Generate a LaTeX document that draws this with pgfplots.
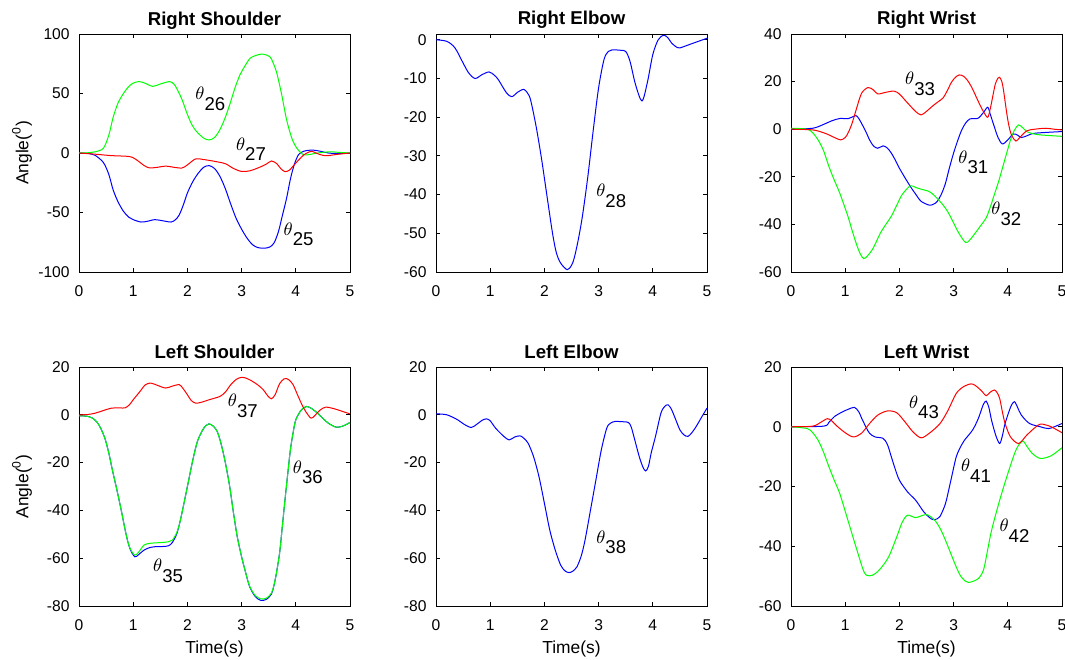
\documentclass[border=0pt]{standalone}
\usepackage{fontspec}
\setmainfont{Liberation Sans}
\usepackage{pgfplots}
\pgfplotsset{compat=1.18}
\definecolor{mblue}{RGB}{0,0,255}
\definecolor{mred}{RGB}{255,0,0}
\definecolor{mgreen}{RGB}{0,255,0}
\newcommand{\thl}[1]{\fontsize{9.3}{11}\selectfont\(\theta\)\raisebox{-5.3pt}{#1}}
\pgfplotsset{
  panel/.style={
    scale only axis, width=135.5pt, height=119pt,
    xmin=0, xmax=5, xtick={0,1,2,3,4,5},
    tick align=inside, major tick length=1.8pt,
    tick style={black, line width=0.4pt},
    axis line style={line width=0.4pt},
    every tick label/.append style={font=\fontsize{7.8}{9}\selectfont},
    /pgf/number format/assume math mode=true,
    xticklabel style={yshift=-3.5pt},
    yticklabel style={xshift=-1.2pt},
    title style={font=\bfseries\fontsize{9.3}{11}\selectfont, at={(axis description cs:0.5,1)}, anchor=base, yshift=-1.5pt},
    every axis y label/.style={at={(axis description cs:-0.21,0.5)}, rotate=90, anchor=center, font=\fontsize{8.7}{10}\selectfont},
    every axis x label/.style={at={(axis description cs:0.5,-0.197)}, anchor=base, font=\fontsize{8.7}{10}\selectfont},
    clip=true,
  },
  every axis plot/.append style={line width=0.5pt, smooth, tension=0.5},
}
\begin{document}
\begin{tikzpicture}
\useasboundingbox (0,0) rectangle (532.5pt,329.5pt);
% ---------- Right Shoulder
\begin{axis}[panel, at={(39.5pt,193.5pt)}, anchor=south west,
  ymin=-100, ymax=100, ytick={-100,-50,0,50,100},
  title={Right Shoulder}, ylabel={Angle(\textsuperscript{0})}]
\addplot[mblue] coordinates {(0,0)(0.2,-0.5)(0.3,-2)(0.45,-8)(0.55,-18)(0.63,-31)(0.72,-41)(0.82,-49)(0.92,-54)(1.0,-56)(1.14,-58)(1.25,-57.5)(1.4,-56)(1.55,-57)(1.7,-58)(1.78,-56)(1.85,-52)(1.93,-43)(2.0,-33.6)(2.1,-24)(2.2,-17)(2.3,-12)(2.4,-10.6)(2.5,-13)(2.6,-19.6)(2.7,-30)(2.8,-43)(2.9,-55)(3.0,-64)(3.1,-71.5)(3.2,-77)(3.3,-79.5)(3.42,-80)(3.52,-79)(3.6,-75.5)(3.68,-66)(3.75,-53)(3.83,-38)(3.9,-22)(3.97,-10)(4.05,-1.4)(4.15,1.5)(4.3,2.5)(4.45,1.5)(4.6,0)(4.8,-0.5)(5,0)};
\addplot[mgreen] coordinates {(0,0)(0.2,0.3)(0.3,1)(0.45,4)(0.55,15)(0.63,30)(0.72,42)(0.82,50)(0.92,56)(1.0,58.7)(1.1,60)(1.2,59)(1.36,56)(1.5,58)(1.67,60)(1.75,58)(1.8,54.5)(1.9,45)(1.99,33.6)(2.08,24)(2.17,18)(2.3,12.5)(2.4,11)(2.5,13)(2.6,19.6)(2.7,30)(2.79,42)(2.88,55)(2.97,65.7)(3.06,73)(3.16,79.7)(3.3,82.5)(3.4,83)(3.52,81)(3.58,76)(3.65,67)(3.74,49)(3.83,28)(3.93,12)(4.02,4)(4.14,-1.4)(4.26,-1.2)(4.4,0)(4.63,1)(4.8,0.5)(5,0)};
\addplot[mred] coordinates {(0,0)(0.3,-1)(0.6,-2.2)(0.9,-2.8)(1.0,-4)(1.1,-7)(1.2,-10.5)(1.3,-12.5)(1.45,-12)(1.6,-11)(1.75,-12)(1.9,-12.6)(2.0,-10)(2.15,-5)(2.3,-5.5)(2.5,-7)(2.7,-9)(2.85,-13)(3.0,-15.5)(3.15,-15)(3.3,-12.6)(3.45,-9.5)(3.55,-6.7)(3.65,-9)(3.72,-13)(3.8,-15.7)(3.88,-14.5)(3.95,-11)(4.05,-6)(4.15,-1.5)(4.25,1)(4.3,1.4)(4.4,-0.5)(4.5,-2)(4.6,-2.2)(4.75,-1.2)(5,0)};
\node[anchor=base west, inner sep=0pt] at (axis cs:2.14,44.8) {\thl{26}};
\node[anchor=base west, inner sep=0pt] at (axis cs:2.89,2.2) {\thl{27}};
\node[anchor=base west, inner sep=0pt] at (axis cs:3.77,-69) {\thl{25}};
\end{axis}
% ---------- Right Elbow
\begin{axis}[panel, at={(218pt,193.5pt)}, anchor=south west,
  ymin=-60, ymax=1.5, ytick={-60,-50,-40,-30,-20,-10,0},
  title={Right Elbow}]
\addplot[mblue] coordinates {(0,0)(0.2,-0.4)(0.35,-2.1)(0.5,-6)(0.6,-8.5)(0.72,-10)(0.85,-9)(0.98,-8.3)(1.08,-9.2)(1.15,-10.3)(1.3,-13.7)(1.4,-14.7)(1.5,-13.6)(1.62,-12.8)(1.7,-14)(1.75,-15.8)(1.85,-22.6)(1.95,-31)(2.05,-40.6)(2.15,-50)(2.22,-55)(2.3,-57.7)(2.42,-59.4)(2.5,-58.3)(2.55,-56.4)(2.62,-52)(2.7,-45.7)(2.8,-35.5)(2.9,-23.5)(3.0,-12.4)(3.1,-5.1)(3.18,-3)(3.25,-2.6)(3.4,-2.7)(3.5,-3)(3.58,-5.6)(3.68,-11.5)(3.8,-15.8)(3.9,-11)(4.0,-3.8)(4.1,0)(4.2,1.2)(4.28,0.5)(4.35,-0.9)(4.45,-2)(4.5,-2.1)(4.7,-1.1)(5.0,0.4)};
\node[anchor=base west, inner sep=0pt] at (axis cs:2.95,-40.6) {\thl{28}};
\end{axis}
% ---------- Right Wrist
\begin{axis}[panel, at={(395.5pt,193.5pt)}, anchor=south west,
  ymin=-60, ymax=40, ytick={-60,-40,-20,0,20,40},
  title={Right Wrist}]
\addplot[mblue] coordinates {(0,0)(0.4,0.4)(0.6,2)(0.75,3.5)(0.9,4.5)(1.05,4.4)(1.12,5)(1.2,5.7)(1.25,4.5)(1.3,2.5)(1.38,-1)(1.45,-4.5)(1.52,-7)(1.6,-8)(1.7,-7)(1.78,-8)(1.85,-10)(1.92,-12.8)(2.0,-16.4)(2.1,-20.3)(2.2,-24)(2.3,-27.3)(2.4,-30.3)(2.55,-31.9)(2.63,-31.5)(2.7,-30.3)(2.78,-27)(2.85,-22.7)(2.92,-16.5)(3.0,-10)(3.08,-4.5)(3.15,-0.3)(3.22,2.5)(3.3,4.3)(3.45,4.6)(3.55,7)(3.63,9.2)(3.68,6)(3.75,1.1)(3.82,-3.5)(3.9,-6.2)(4.0,-4.5)(4.1,-2)(4.18,-2.5)(4.25,-3.5)(4.35,-2.8)(4.5,-1.7)(5.0,-1)};
\addplot[mgreen] coordinates {(0,0.4)(0.3,0)(0.4,-1.5)(0.5,-4.5)(0.6,-9)(0.7,-15.7)(0.8,-21.5)(0.9,-26.9)(1.05,-36.6)(1.12,-42)(1.2,-47.8)(1.27,-52)(1.34,-54.4)(1.42,-53)(1.5,-50.6)(1.58,-47)(1.65,-43.6)(1.75,-40)(1.85,-36.6)(1.95,-32)(2.05,-27.5)(2.2,-23.8)(2.3,-24.5)(2.4,-25.2)(2.55,-26.2)(2.65,-28)(2.8,-31.7)(2.9,-35)(3.0,-39.4)(3.1,-43.8)(3.22,-47.6)(3.3,-46.5)(3.4,-43.6)(3.5,-40.5)(3.6,-37.3)(3.68,-32.5)(3.75,-27.6)(3.83,-22)(3.9,-16.4)(3.98,-10)(4.05,-4.5)(4.12,-0.5)(4.2,1.8)(4.28,0.5)(4.35,-1)(4.45,-1.8)(4.6,-2.4)(5.0,-3)};
\addplot[mred] coordinates {(0,0)(0.4,-0.3)(0.6,-1.5)(0.7,-2.4)(0.82,-3.7)(0.92,-4.5)(1.0,-3.5)(1.05,-1.7)(1.12,2)(1.2,8)(1.3,15)(1.42,17.5)(1.52,16.5)(1.6,14.8)(1.75,15.5)(1.9,16)(2.0,14.8)(2.1,12.3)(2.2,9.8)(2.3,7.4)(2.4,6)(2.5,7.5)(2.6,9.5)(2.7,11.3)(2.8,13)(2.88,16)(2.95,19.3)(3.02,21.5)(3.1,22.8)(3.18,22.3)(3.25,20.7)(3.33,17.8)(3.4,14.4)(3.48,10.5)(3.55,7.4)(3.63,5)(3.68,9)(3.72,13.5)(3.77,19)(3.82,21.5)(3.85,21.8)(3.89,20)(3.92,16.5)(3.96,10)(4.0,3.9)(4.04,-0.5)(4.08,-3)(4.15,-5)(4.22,-3.5)(4.35,-0.7)(4.5,0)(4.7,0.4)(4.85,0)(5.0,-0.3)};
\node[anchor=base west, inner sep=0pt] at (axis cs:2.1,18.6) {\thl{33}};
\node[anchor=base west, inner sep=0pt] at (axis cs:3.08,-14.3) {\thl{31}};
\node[anchor=base west, inner sep=0pt] at (axis cs:3.69,-36) {\thl{32}};
\end{axis}
% ---------- Left Shoulder
\begin{axis}[panel, at={(39.5pt,26.5pt)}, anchor=south west, height=119.5pt,
  ymin=-80, ymax=20, ytick={-80,-60,-40,-20,0,20},
  title={Left Shoulder}, ylabel={Angle(\textsuperscript{0})}, xlabel={Time(s)}]
\addplot[mblue] coordinates {(0,-0.4)(0.15,-0.6)(0.25,-1.4)(0.33,-3)(0.4,-5.6)(0.48,-10)(0.55,-16)(0.62,-23.5)(0.7,-31.5)(0.78,-40)(0.85,-48)(0.9,-53)(0.95,-56.6)(1.03,-59.4)(1.1,-58.5)(1.2,-56.6)(1.3,-55.6)(1.4,-55.2)(1.55,-55.1)(1.65,-54.8)(1.72,-53.5)(1.8,-50)(1.85,-46)(1.9,-41)(2.0,-30)(2.1,-18.9)(2.18,-11.5)(2.25,-7.7)(2.32,-5)(2.4,-3.8)(2.48,-4.8)(2.55,-7)(2.62,-12)(2.7,-20)(2.78,-30)(2.85,-41)(2.92,-51)(3.0,-59.4)(3.08,-66.5)(3.15,-72)(3.25,-76)(3.35,-77.6)(3.45,-77.3)(3.55,-75)(3.62,-69)(3.7,-58)(3.75,-47)(3.8,-35.7)(3.85,-25)(3.9,-14.7)(3.95,-7.5)(4.0,-2.1)(4.1,2)(4.2,3.5)(4.3,2.5)(4.4,0.7)(4.5,-1.5)(4.6,-3.5)(4.75,-5.2)(4.88,-4.6)(5.0,-3.2)};
\addplot[mgreen] coordinates {(0,-0.4)(0.15,-0.6)(0.25,-1.4)(0.33,-3)(0.4,-5.6)(0.48,-10)(0.55,-16)(0.62,-23.5)(0.7,-31.5)(0.78,-40)(0.85,-48)(0.9,-53)(0.95,-56.3)(1.03,-58.7)(1.1,-57.5)(1.2,-54.5)(1.3,-53.8)(1.4,-53.6)(1.55,-53.4)(1.65,-53.1)(1.72,-52.5)(1.8,-49.5)(1.85,-46)(1.9,-41)(2.0,-30)(2.1,-18.9)(2.18,-11.5)(2.25,-7.7)(2.32,-5)(2.4,-3.8)(2.48,-4.8)(2.55,-7)(2.62,-12)(2.7,-20)(2.78,-30)(2.85,-41)(2.92,-51)(3.0,-59.4)(3.08,-66.5)(3.15,-71.8)(3.25,-75.6)(3.35,-77)(3.45,-76.8)(3.55,-74.6)(3.62,-69)(3.7,-58)(3.75,-47)(3.8,-35.7)(3.85,-25)(3.9,-14.7)(3.95,-7.5)(4.0,-2.1)(4.1,2)(4.2,3.5)(4.3,2.5)(4.4,0.7)(4.5,-1.5)(4.6,-3.5)(4.75,-5.2)(4.88,-4.6)(5.0,-3.2)};
\addplot[mred] coordinates {(0,0)(0.15,0.1)(0.3,0.7)(0.45,1.8)(0.6,2.8)(0.75,2.9)(0.85,2.9)(0.93,4.2)(1.0,6.3)(1.08,8.5)(1.15,10.5)(1.22,12.5)(1.32,13.3)(1.45,12.3)(1.6,11.2)(1.72,12)(1.85,12.6)(1.92,11)(2.0,8.4)(2.07,6)(2.15,4.9)(2.25,5.2)(2.4,6.3)(2.6,7.7)(2.7,9.5)(2.8,12.6)(2.9,14.8)(3.0,15.7)(3.1,15.2)(3.2,14)(3.3,12.5)(3.4,10.5)(3.48,8)(3.55,6.7)(3.62,8.5)(3.7,13)(3.78,15)(3.82,15.2)(3.88,14.5)(3.95,12.6)(4.02,9)(4.1,4.9)(4.18,1.5)(4.28,-1.4)(4.35,-0.3)(4.45,2)(4.55,3.2)(4.7,2.6)(4.85,1.5)(5.0,0.4)};
\node[anchor=base west, inner sep=0pt] at (axis cs:2.74,3.5) {\thl{37}};
\node[anchor=base west, inner sep=0pt] at (axis cs:3.94,-24.5) {\thl{36}};
\node[anchor=base west, inner sep=0pt] at (axis cs:1.36,-65.7) {\thl{35}};
\end{axis}
% ---------- Left Elbow
\begin{axis}[panel, at={(218pt,26.5pt)}, anchor=south west, height=119.5pt,
  ymin=-80, ymax=20, ytick={-80,-60,-40,-20,0,20},
  title={Left Elbow}, xlabel={Time(s)}]
\addplot[mblue] coordinates {(0,0.4)(0.2,0)(0.4,-2.1)(0.52,-4)(0.65,-5.3)(0.75,-4)(0.85,-2.3)(0.93,-1.7)(1.0,-2.5)(1.1,-5.6)(1.25,-9)(1.35,-10.5)(1.45,-9.3)(1.55,-8.8)(1.62,-9.8)(1.7,-11.9)(1.8,-17.5)(1.9,-25.9)(2.0,-37)(2.1,-48.3)(2.2,-56.6)(2.3,-62.9)(2.38,-65.3)(2.45,-66)(2.52,-65.5)(2.6,-63.6)(2.68,-59)(2.75,-52.4)(2.85,-39.9)(2.95,-27.3)(3.05,-14.7)(3.15,-5.6)(3.22,-3.5)(3.3,-2.8)(3.45,-2.9)(3.55,-3.2)(3.6,-5)(3.65,-9)(3.75,-17.5)(3.82,-22)(3.87,-23.5)(3.92,-21.5)(3.97,-16)(4.05,-9)(4.15,0.7)(4.22,3.5)(4.28,4.2)(4.34,2.5)(4.4,-0.7)(4.5,-6.3)(4.58,-8.5)(4.65,-9)(4.72,-7.5)(4.8,-4.9)(4.9,-1)(5.0,2.8)};
\node[anchor=base west, inner sep=0pt] at (axis cs:2.95,-53.8) {\thl{38}};
\end{axis}
% ---------- Left Wrist
\begin{axis}[panel, at={(395.5pt,26.5pt)}, anchor=south west, height=119.5pt,
  ymin=-60, ymax=20, ytick={-60,-40,-20,0,20},
  title={Left Wrist}, xlabel={Time(s)}]
\addplot[mblue] coordinates {(0,0)(0.6,0.2)(0.7,1.5)(0.8,3.4)(0.95,5)(1.05,5.8)(1.17,6.5)(1.25,5)(1.3,3)(1.38,0)(1.45,-2.2)(1.55,-3.4)(1.7,-3.9)(1.78,-6)(1.85,-10)(1.92,-14)(2.0,-17.9)(2.15,-21.8)(2.3,-24.6)(2.45,-28.5)(2.55,-30.3)(2.62,-31.1)(2.7,-30.8)(2.75,-30)(2.85,-25.7)(2.95,-17.9)(3.05,-10)(3.15,-6)(3.2,-4.5)(3.35,-1.1)(3.45,2.5)(3.5,5)(3.55,7.5)(3.6,8.6)(3.65,6.5)(3.7,2.2)(3.78,-3)(3.85,-5.6)(3.9,-3)(3.95,1.1)(4.05,6.5)(4.12,8.4)(4.18,6.5)(4.25,3.9)(4.4,1.1)(4.6,0)(4.75,-0.6)(4.9,0.3)(5.0,1.1)};
\addplot[mgreen] coordinates {(0,0)(0.3,-0.6)(0.4,-2)(0.5,-4.5)(0.6,-8.5)(0.7,-13.4)(0.8,-18)(0.9,-22.4)(1.05,-31.3)(1.2,-40.3)(1.35,-48.7)(1.45,-49.9)(1.55,-49.2)(1.65,-47.5)(1.8,-43.6)(1.95,-36.9)(2.05,-32)(2.15,-29.6)(2.3,-30.4)(2.5,-29.4)(2.65,-31.3)(2.75,-34)(2.85,-38)(3.05,-47)(3.15,-50.5)(3.27,-52.1)(3.45,-50.9)(3.55,-48)(3.62,-42)(3.7,-34.7)(3.85,-24.6)(4.0,-15.7)(4.15,-7.8)(4.27,-4.8)(4.35,-6.5)(4.45,-8.9)(4.6,-10.6)(4.8,-9.7)(5.0,-7)};
\addplot[mred] coordinates {(0,0)(0.4,0.2)(0.55,1.5)(0.67,2.7)(0.75,2)(0.85,0.2)(1.0,-2)(1.15,-3.4)(1.3,-2.2)(1.45,1.1)(1.6,3.9)(1.78,5.3)(1.95,4.7)(2.1,1.7)(2.25,-1.7)(2.4,-3.7)(2.55,-2.2)(2.75,1.1)(2.9,5.6)(3.05,11.2)(3.2,13.6)(3.35,14.3)(3.5,12.3)(3.6,10.4)(3.67,11.5)(3.75,12.3)(3.8,11.5)(3.85,9.5)(3.9,5)(3.95,1.1)(4.05,-3.4)(4.2,-5.6)(4.35,-2.8)(4.5,-0.3)(4.6,0.9)(4.7,0.6)(4.8,0)(5.0,-2)};
\node[anchor=base west, inner sep=0pt] at (axis cs:2.17,6.2) {\thl{43}};
\node[anchor=base west, inner sep=0pt] at (axis cs:3.13,-15.1) {\thl{41}};
\node[anchor=base west, inner sep=0pt] at (axis cs:3.84,-35.2) {\thl{42}};
\end{axis}
\end{tikzpicture}
\end{document}
